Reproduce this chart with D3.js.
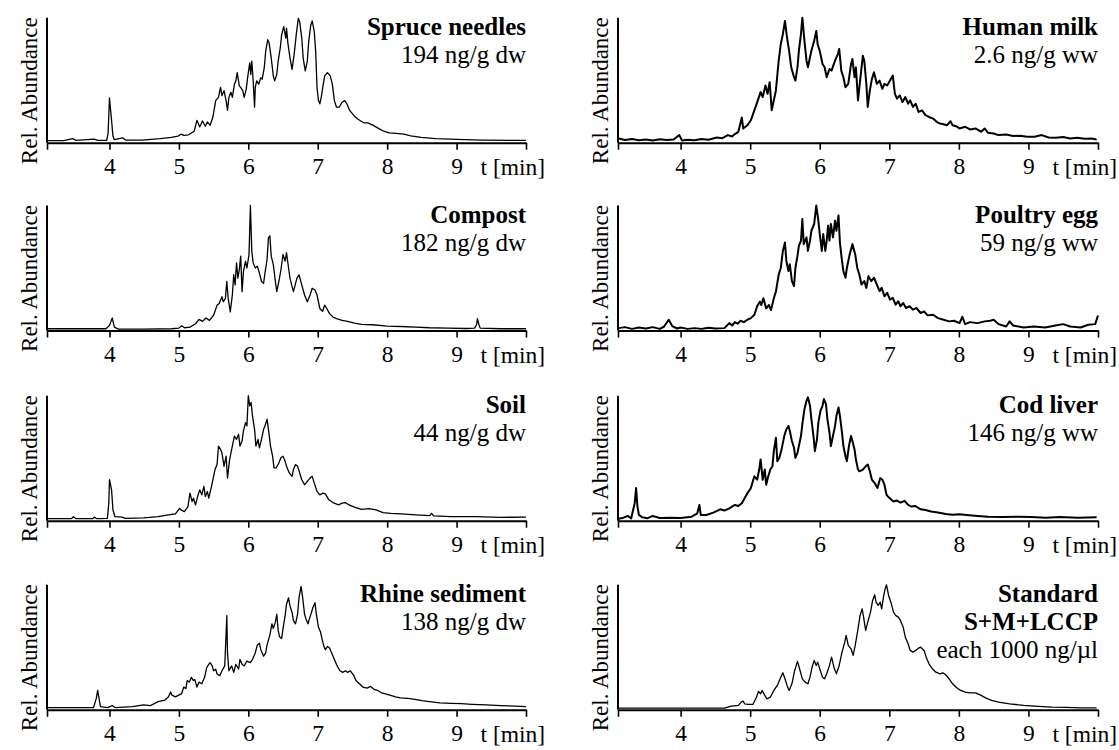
<!DOCTYPE html>
<html><head><meta charset="utf-8">
<script src="https://cdn.jsdelivr.net/npm/d3@7"></script>
<style>
body{margin:0;background:#fff}
svg{display:block}
text{font-family:"Liberation Serif","Times New Roman",serif;fill:#000}
</style>
</head><body>
<svg id="chart" width="1119" height="750"></svg>
<script>
// ---------- DATA (time [min], relative abundance 0-100) ----------
const spruceNeedles = [[3.10,1.6],[3.34,1.6],[3.47,3.2],[3.52,1.8],[3.78,2.9],[3.83,1.8],[3.96,1.8],[3.98,7.4],[4.00,35.8],[4.03,17.9],[4.05,5.3],[4.07,2.4],[4.19,3.9],[4.23,2.1],[4.47,2.1],[4.73,3.2],[4.89,4.2],[4.99,5.3],[5.03,6.8],[5.07,5.8],[5.14,6.3],[5.22,9.2],[5.26,17.9],[5.30,12.6],[5.34,17.4],[5.38,13.2],[5.41,16.6],[5.45,13.9],[5.49,20.5],[5.53,33.7],[5.57,36.3],[5.60,44.2],[5.62,37.6],[5.65,41.6],[5.68,33.7],[5.70,25.8],[5.72,36.3],[5.75,40.3],[5.77,36.3],[5.80,46.8],[5.82,49.5],[5.84,56.1],[5.87,45.5],[5.89,44.2],[5.92,41.6],[5.94,36.3],[5.97,42.9],[5.99,52.1],[6.02,63.9],[6.035,54.7],[6.05,65.3],[6.07,49.5],[6.09,28.4],[6.10,44.2],[6.12,49.5],[6.15,46.8],[6.18,52.1],[6.20,50.8],[6.23,60.0],[6.25,73.2],[6.28,82.4],[6.30,79.7],[6.33,67.9],[6.36,53.4],[6.38,49.5],[6.41,54.7],[6.43,65.3],[6.46,75.8],[6.48,86.3],[6.51,92.9],[6.54,83.7],[6.55,91.6],[6.57,79.7],[6.60,67.9],[6.63,58.7],[6.66,70.5],[6.69,86.3],[6.72,99.5],[6.74,96.8],[6.77,83.7],[6.79,67.9],[6.82,57.4],[6.85,65.3],[6.87,81.1],[6.90,94.2],[6.92,97.4],[6.95,88.9],[6.97,73.2],[6.99,44.2],[7.01,33.7],[7.03,31.1],[7.05,36.3],[7.08,46.8],[7.10,53.4],[7.14,56.1],[7.18,53.4],[7.21,46.8],[7.24,33.7],[7.27,28.4],[7.31,28.4],[7.35,32.4],[7.39,33.7],[7.42,31.1],[7.46,25.8],[7.52,21.8],[7.57,19.2],[7.62,17.4],[7.67,15.8],[7.72,15.8],[7.80,13.9],[7.88,11.3],[7.95,9.2],[8.03,7.9],[8.13,7.4],[8.24,6.8],[8.34,5.5],[8.49,4.2],[8.70,3.2],[9.01,2.6],[9.37,2.1],[10.0,1.8]];

const compost = [[3.10,1.4],[3.50,1.4],[3.95,1.4],[4.00,4.1],[4.04,10.0],[4.07,2.7],[4.13,1.1],[4.49,1.1],[4.90,1.4],[5.00,1.9],[5.04,3.8],[5.08,2.2],[5.16,2.7],[5.24,5.4],[5.29,8.9],[5.34,7.3],[5.39,10.0],[5.44,8.1],[5.50,12.2],[5.55,20.3],[5.58,21.6],[5.62,27.0],[5.64,23.0],[5.67,25.7],[5.69,39.2],[5.71,25.7],[5.74,14.9],[5.77,28.4],[5.79,44.6],[5.81,36.5],[5.83,54.1],[5.85,41.9],[5.87,48.6],[5.89,59.5],[5.91,31.1],[5.93,47.3],[5.96,55.4],[5.98,50.0],[6.01,60.8],[6.03,100],[6.05,63.5],[6.07,54.1],[6.10,50.0],[6.13,51.4],[6.16,45.9],[6.19,39.2],[6.22,37.8],[6.24,45.9],[6.27,56.8],[6.29,74.3],[6.31,75.7],[6.33,59.5],[6.36,52.7],[6.39,39.2],[6.41,31.1],[6.44,39.2],[6.47,48.6],[6.50,60.8],[6.53,55.4],[6.55,62.2],[6.58,50.0],[6.60,41.9],[6.63,35.1],[6.65,31.1],[6.70,41.9],[6.73,44.6],[6.77,36.5],[6.81,28.4],[6.85,23.0],[6.89,28.4],[6.92,33.8],[6.96,32.4],[6.99,28.4],[7.03,17.6],[7.07,15.4],[7.10,20.3],[7.13,17.6],[7.17,13.5],[7.22,10.8],[7.27,9.5],[7.35,8.1],[7.43,7.3],[7.53,5.9],[7.63,4.9],[7.79,4.6],[8.00,3.5],[8.20,3.2],[8.41,2.7],[8.61,2.2],[8.87,1.9],[9.13,1.6],[9.26,1.9],[9.29,5.0],[9.30,9.5],[9.32,5.0],[9.34,1.9],[9.64,1.4],[10.0,1.4]];

const soil = [[3.10,1.6],[3.45,1.6],[3.48,3.2],[3.52,1.6],[3.76,1.6],[3.78,2.9],[3.82,1.6],[3.97,1.9],[3.99,14.0],[4.00,32.8],[4.03,24.7],[4.05,8.6],[4.08,3.2],[4.18,2.9],[4.23,1.9],[4.49,2.2],[4.70,3.2],[4.85,4.6],[4.95,5.4],[5.01,9.9],[5.03,8.6],[5.08,7.3],[5.13,11.3],[5.16,22.0],[5.19,15.3],[5.21,18.0],[5.24,12.6],[5.27,19.4],[5.30,24.7],[5.33,20.7],[5.36,27.4],[5.38,19.4],[5.41,23.4],[5.43,18.0],[5.47,27.4],[5.49,32.8],[5.52,40.9],[5.55,44.9],[5.57,59.7],[5.60,57.0],[5.62,54.3],[5.65,43.5],[5.68,51.6],[5.70,34.1],[5.73,48.9],[5.75,54.3],[5.78,62.4],[5.80,67.7],[5.83,65.1],[5.86,69.1],[5.88,59.7],[5.91,63.7],[5.93,71.8],[5.96,78.5],[5.98,75.8],[6.00,100],[6.02,91.9],[6.04,94.6],[6.06,83.9],[6.09,73.1],[6.11,59.7],[6.14,65.1],[6.16,58.3],[6.19,65.1],[6.22,73.1],[6.24,75.8],[6.27,81.2],[6.29,73.1],[6.32,59.7],[6.35,51.6],[6.37,42.2],[6.40,42.2],[6.44,46.2],[6.47,50.3],[6.50,51.6],[6.53,47.6],[6.55,43.5],[6.59,38.2],[6.63,35.5],[6.65,40.9],[6.68,44.9],[6.71,43.5],[6.74,38.2],[6.77,32.8],[6.81,28.8],[6.85,31.5],[6.89,34.1],[6.92,35.5],[6.95,30.1],[6.99,23.4],[7.03,20.7],[7.07,22.0],[7.11,21.5],[7.16,16.7],[7.22,14.5],[7.30,12.6],[7.35,14.0],[7.40,14.5],[7.45,12.6],[7.53,10.8],[7.63,9.1],[7.74,9.7],[7.84,8.6],[7.94,6.5],[8.05,5.9],[8.20,5.4],[8.41,4.6],[8.61,4.0],[8.64,5.9],[8.67,3.8],[8.92,3.2],[9.28,3.2],[9.64,2.7],[10.0,2.9]];

const rhineSediment = [[3.10,1.8],[3.45,1.8],[3.77,1.8],[3.81,9.1],[3.83,15.6],[3.85,9.1],[3.87,2.6],[3.97,1.8],[4.04,3.4],[4.08,1.8],[4.33,2.6],[4.49,3.9],[4.59,3.4],[4.70,6.5],[4.80,7.8],[4.85,10.4],[4.88,14.3],[4.90,11.7],[4.95,10.4],[5.04,13.0],[5.07,18.2],[5.10,16.9],[5.12,23.4],[5.15,22.1],[5.18,26.0],[5.21,23.4],[5.23,24.2],[5.26,18.2],[5.29,22.1],[5.33,20.8],[5.37,26.0],[5.40,33.8],[5.43,36.4],[5.45,37.7],[5.48,35.1],[5.50,31.2],[5.53,32.5],[5.55,28.6],[5.59,27.3],[5.62,31.2],[5.66,35.1],[5.68,61.0],[5.69,75.3],[5.70,45.5],[5.72,31.2],[5.76,35.1],[5.79,29.9],[5.82,36.4],[5.86,32.5],[5.88,40.3],[5.91,36.4],[5.94,35.1],[5.98,39.0],[6.03,37.7],[6.06,40.3],[6.10,45.5],[6.13,51.9],[6.16,53.2],[6.18,48.1],[6.22,42.9],[6.25,45.5],[6.27,51.9],[6.31,59.7],[6.34,68.8],[6.36,64.9],[6.39,70.1],[6.41,76.6],[6.43,63.6],[6.45,58.4],[6.48,57.1],[6.50,64.9],[6.53,75.3],[6.55,84.4],[6.58,89.6],[6.60,83.1],[6.63,77.9],[6.65,71.4],[6.68,68.8],[6.71,76.6],[6.73,89.6],[6.76,98.7],[6.78,90.9],[6.81,76.6],[6.83,72.7],[6.86,68.8],[6.88,72.7],[6.91,77.9],[6.93,81.8],[6.96,85.7],[6.98,76.6],[7.01,66.2],[7.04,62.3],[7.06,57.1],[7.09,50.6],[7.11,48.1],[7.14,50.6],[7.17,49.4],[7.21,44.2],[7.24,40.3],[7.28,35.1],[7.32,31.2],[7.36,29.9],[7.40,31.2],[7.43,29.9],[7.47,31.2],[7.52,27.3],[7.55,23.4],[7.60,20.8],[7.65,18.2],[7.71,17.4],[7.76,18.7],[7.81,16.4],[7.86,15.6],[7.91,13.8],[7.96,13.0],[8.04,11.7],[8.12,10.4],[8.19,9.6],[8.30,9.1],[8.40,8.3],[8.50,7.3],[8.61,6.5],[8.76,5.5],[8.92,5.2],[9.07,4.9],[9.22,4.4],[9.43,3.9],[9.64,3.4],[9.85,2.9],[10.0,2.6]];

const humanMilk = [[3.11,3.4],[3.20,2.1],[3.30,3.0],[3.40,2.0],[3.50,2.6],[3.60,1.8],[3.70,2.8],[3.80,2.2],[3.90,2.5],[3.98,6.1],[4.02,1.8],[4.10,2.4],[4.20,2.0],[4.30,3.0],[4.40,2.4],[4.52,4.2],[4.60,3.6],[4.68,6.1],[4.74,5.0],[4.78,6.9],[4.83,8.7],[4.88,20.1],[4.90,11.4],[4.96,14.0],[5.01,18.0],[5.06,25.9],[5.11,33.9],[5.15,40.5],[5.18,36.5],[5.22,45.8],[5.25,39.2],[5.28,48.4],[5.31,25.9],[5.34,33.9],[5.37,41.8],[5.41,65.6],[5.44,78.8],[5.47,86.8],[5.50,97.4],[5.53,84.1],[5.56,73.5],[5.59,60.3],[5.63,52.4],[5.65,49.7],[5.68,60.3],[5.70,73.5],[5.73,86.8],[5.75,100],[5.78,81.5],[5.81,65.6],[5.83,60.3],[5.86,68.3],[5.88,73.5],[5.92,81.5],[5.95,89.4],[5.97,78.8],[6.00,73.5],[6.04,63.0],[6.07,60.3],[6.10,52.4],[6.14,59.0],[6.17,57.7],[6.22,65.6],[6.26,70.9],[6.28,74.9],[6.31,57.7],[6.34,52.4],[6.37,44.4],[6.41,47.1],[6.45,63.0],[6.47,66.9],[6.50,52.4],[6.52,60.3],[6.55,33.9],[6.58,49.7],[6.62,69.6],[6.64,65.6],[6.67,47.1],[6.69,28.6],[6.72,41.8],[6.75,51.1],[6.78,56.3],[6.82,47.1],[6.86,49.7],[6.90,43.1],[6.93,47.1],[6.97,45.8],[7.01,49.7],[7.05,53.7],[7.08,39.2],[7.11,35.2],[7.15,37.8],[7.19,32.5],[7.23,36.5],[7.27,31.2],[7.30,33.9],[7.34,28.6],[7.38,31.2],[7.42,24.6],[7.47,25.9],[7.52,22.0],[7.57,20.6],[7.63,19.3],[7.68,16.7],[7.73,15.3],[7.78,14.8],[7.83,14.0],[7.88,17.2],[7.91,14.0],[7.96,13.2],[8.01,11.4],[8.09,12.7],[8.16,10.6],[8.24,11.4],[8.32,8.7],[8.37,11.4],[8.42,7.9],[8.50,7.4],[8.57,6.1],[8.68,6.6],[8.78,5.3],[8.88,5.6],[8.98,4.8],[9.09,4.8],[9.19,6.1],[9.29,4.2],[9.39,4.0],[9.50,4.5],[9.60,3.4],[9.70,4.0],[9.81,3.2],[9.91,3.4],[9.98,2.6]];

const poultryEgg = [[3.11,1.9],[3.20,2.7],[3.30,1.3],[3.40,2.4],[3.50,1.6],[3.60,2.7],[3.70,1.3],[3.76,3.0],[3.83,8.6],[3.88,3.5],[3.95,1.6],[4.00,2.4],[4.10,1.3],[4.20,1.9],[4.30,1.3],[4.40,2.2],[4.50,1.6],[4.63,1.9],[4.70,5.9],[4.74,4.0],[4.78,6.7],[4.82,5.4],[4.86,7.8],[4.91,6.7],[4.96,8.6],[5.01,9.9],[5.06,12.6],[5.10,19.4],[5.14,23.1],[5.16,20.4],[5.19,25.8],[5.23,17.7],[5.27,20.4],[5.30,16.4],[5.34,25.8],[5.37,31.2],[5.41,44.6],[5.44,50.0],[5.47,63.7],[5.50,70.4],[5.52,55.6],[5.55,47.6],[5.57,53.0],[5.60,39.5],[5.63,35.5],[5.65,50.0],[5.68,59.7],[5.70,67.7],[5.73,71.8],[5.75,89.2],[5.77,69.1],[5.81,74.5],[5.83,63.7],[5.86,71.8],[5.88,79.8],[5.92,85.2],[5.95,100],[5.98,87.9],[6.00,77.2],[6.03,63.7],[6.05,77.2],[6.08,63.7],[6.10,71.8],[6.12,83.9],[6.14,71.8],[6.16,85.2],[6.19,74.5],[6.22,87.9],[6.24,79.8],[6.27,92.0],[6.29,70.4],[6.32,55.6],[6.34,47.6],[6.37,42.2],[6.39,50.0],[6.43,60.8],[6.47,69.1],[6.51,60.8],[6.54,50.0],[6.57,44.6],[6.60,36.8],[6.64,39.5],[6.67,34.1],[6.70,43.5],[6.74,39.5],[6.78,42.2],[6.82,36.8],[6.86,31.5],[6.89,34.1],[6.93,27.4],[6.97,30.1],[7.01,24.7],[7.05,26.1],[7.09,20.7],[7.13,23.4],[7.16,19.4],[7.20,22.0],[7.24,18.0],[7.29,19.4],[7.34,16.7],[7.39,18.0],[7.45,14.0],[7.50,15.3],[7.55,12.1],[7.63,12.6],[7.70,9.9],[7.78,8.6],[7.86,7.3],[7.93,7.8],[8.01,5.9],[8.05,11.0],[8.09,5.1],[8.16,6.7],[8.27,5.9],[8.37,7.3],[8.45,7.8],[8.50,8.6],[8.57,5.1],[8.68,3.2],[8.73,7.3],[8.78,4.0],[8.93,2.4],[9.08,3.2],[9.24,2.4],[9.39,4.0],[9.50,5.1],[9.60,3.2],[9.75,2.4],[9.86,4.6],[9.96,5.1],[10.0,12.0]];

const codLiver = [[3.11,1.6],[3.18,2.4],[3.24,3.8],[3.29,1.9],[3.34,14.0],[3.36,26.1],[3.38,11.3],[3.40,4.6],[3.45,2.7],[3.52,1.9],[3.60,3.8],[3.70,2.2],[3.85,2.4],[4.00,2.2],[4.16,3.2],[4.24,5.9],[4.27,12.6],[4.29,4.6],[4.37,4.6],[4.47,6.5],[4.57,9.1],[4.63,8.1],[4.70,9.9],[4.78,12.6],[4.83,11.8],[4.88,14.0],[4.92,18.0],[4.96,22.0],[5.01,26.1],[5.06,35.5],[5.10,32.8],[5.13,40.9],[5.15,49.0],[5.18,32.8],[5.21,40.9],[5.23,28.8],[5.26,35.5],[5.29,40.9],[5.32,43.5],[5.34,55.6],[5.37,66.4],[5.39,47.6],[5.42,50.3],[5.45,56.7],[5.49,67.7],[5.52,73.1],[5.55,75.8],[5.57,71.8],[5.60,63.7],[5.63,58.3],[5.65,50.3],[5.68,54.3],[5.70,59.7],[5.73,67.7],[5.75,77.2],[5.78,89.2],[5.81,95.9],[5.83,98.7],[5.86,91.9],[5.88,81.2],[5.91,67.7],[5.93,55.6],[5.96,65.1],[5.98,78.5],[6.01,87.9],[6.04,91.9],[6.06,97.3],[6.09,93.3],[6.11,81.2],[6.14,70.4],[6.16,59.7],[6.19,67.7],[6.22,75.8],[6.24,83.9],[6.27,90.6],[6.29,83.9],[6.32,70.4],[6.34,59.7],[6.37,51.6],[6.39,47.6],[6.42,59.7],[6.45,67.7],[6.47,63.7],[6.50,57.0],[6.52,48.9],[6.55,40.9],[6.57,39.5],[6.62,40.9],[6.66,43.5],[6.69,44.9],[6.72,39.5],[6.75,32.8],[6.79,30.1],[6.83,26.1],[6.87,34.1],[6.90,32.8],[6.93,28.8],[6.96,20.7],[6.98,19.4],[7.03,16.7],[7.06,15.3],[7.11,16.1],[7.16,14.5],[7.22,15.9],[7.27,12.6],[7.32,11.3],[7.37,11.8],[7.45,9.1],[7.52,8.6],[7.60,7.3],[7.70,6.5],[7.81,5.4],[7.91,4.8],[8.01,5.1],[8.11,4.6],[8.27,3.8],[8.42,3.2],[8.63,2.9],[8.84,3.2],[9.04,2.9],[9.25,2.4],[9.45,2.9],[9.71,2.4],[9.98,2.7]];

const standardMix = [[3.11,1.3],[3.80,1.3],[4.63,1.3],[4.73,2.9],[4.83,3.5],[4.87,6.1],[4.90,6.9],[4.92,4.8],[4.97,4.3],[5.04,4.3],[5.09,10.1],[5.12,14.7],[5.15,12.8],[5.17,15.5],[5.21,11.5],[5.24,8.8],[5.29,10.1],[5.34,15.5],[5.39,19.5],[5.44,26.1],[5.47,29.6],[5.50,24.8],[5.53,19.5],[5.56,15.5],[5.60,20.8],[5.64,31.5],[5.68,38.7],[5.71,32.8],[5.75,24.8],[5.79,22.1],[5.83,20.8],[5.86,26.1],[5.89,34.1],[5.92,39.5],[5.95,35.5],[5.97,38.1],[6.00,32.8],[6.04,26.1],[6.07,24.8],[6.10,28.8],[6.14,35.5],[6.17,42.1],[6.21,32.8],[6.24,28.8],[6.28,35.5],[6.32,46.1],[6.36,54.1],[6.38,59.5],[6.41,51.5],[6.45,48.8],[6.48,43.5],[6.51,51.5],[6.55,64.8],[6.58,75.5],[6.61,80.8],[6.63,74.1],[6.66,63.5],[6.69,70.1],[6.73,78.1],[6.76,87.5],[6.79,92.0],[6.81,86.1],[6.84,83.5],[6.87,86.1],[6.89,80.8],[6.92,91.5],[6.94,96.8],[6.96,100],[6.99,91.5],[7.03,84.8],[7.06,78.1],[7.09,75.5],[7.13,74.1],[7.16,71.5],[7.20,66.1],[7.23,58.1],[7.27,52.8],[7.30,47.5],[7.34,46.1],[7.38,47.5],[7.42,49.3],[7.45,50.1],[7.50,47.5],[7.53,42.1],[7.57,36.8],[7.62,32.8],[7.67,30.1],[7.73,28.8],[7.77,29.6],[7.81,28.0],[7.86,24.8],[7.91,20.8],[7.96,18.1],[8.01,16.0],[8.09,14.1],[8.16,13.6],[8.24,13.6],[8.32,11.5],[8.39,9.3],[8.47,7.5],[8.57,6.1],[8.73,4.8],[8.93,3.5],[9.14,2.7],[9.34,2.1],[9.55,1.9],[9.75,1.6],[9.98,1.6]];

const sampleNames = ["Spruce needles","Compost","Soil","Rhine sediment","Human milk","Poultry egg","Cod liver","Standard"];
const sampleNotes = [["194 ng/g dw"],["182 ng/g dw"],["44 ng/g dw"],["138 ng/g dw"],["2.6 ng/g ww"],["59 ng/g ww"],["146 ng/g ww"],["S+M+LCCP","each 1000 ng/\u00b5l"]];
const sampleSeries = [spruceNeedles, compost, soil, rhineSediment, humanMilk, poultryEgg, codLiver, standardMix];
const boldSecondLine = [false,false,false,false,false,false,false,true];
const xTickLabels = [4,5,6,7,8,9];
const timeDomain = [3.1, 10];
const xAxisTitle = "t [min]";
const yAxisTitle = "Rel. Abundance";

// ---------- LAYOUT ----------
const svg = d3.select("#chart");
svg.append("rect").attr("width",1119).attr("height",750).attr("fill","#fff");
const colRange = [[47, 526], [618, 1098]];
const rowBase = [142.7, 330.5, 520.7, 709.8];
const plotH = 125;
const noisy = new Set([4,5,6]);
const serif = '"Liberation Serif","Times New Roman",serif';

sampleSeries.forEach((series, i) => {
  const col = Math.floor(i / 4), row = i % 4;
  const [x0, x1] = colRange[col];
  const base = rowBase[row];
  const x = d3.scaleLinear().domain(timeDomain).range([x0, x1]);
  const y = d3.scaleLinear().domain([0, 100]).range([base, base - plotH]);
  const g = svg.append("g");

  // trace
  g.append("path")
    .datum(series)
    .attr("fill", "none")
    .attr("stroke", "#000")
    .attr("stroke-width", noisy.has(i) ? 2.0 : 1.3)
    .attr("stroke-linejoin", "round")
    .attr("d", d3.line().x(d => x(d[0])).y(d => y(d[1])));

  // x axis
  const ax = g.append("g").attr("transform", `translate(0,${base})`)
    .call(d3.axisBottom(x)
      .tickValues([timeDomain[0], ...xTickLabels, timeDomain[1]])
      .tickSize(7).tickSizeOuter(0).tickPadding(8)
      .tickFormat(d => xTickLabels.includes(d) ? String(d) : ""));
  ax.attr("font-family", serif);
  ax.select(".domain").attr("stroke", "#000").attr("stroke-width", 2);
  ax.selectAll(".tick line").attr("stroke", "#000").attr("stroke-width", 1.6);
  ax.selectAll(".tick text")
    .attr("font-family", serif)
    .attr("font-size", 23.5).attr("fill", "#000");

  // y axis line
  g.append("line")
    .attr("x1", x0).attr("x2", x0)
    .attr("y1", y(0)).attr("y2", y(100))
    .attr("stroke", "#000").attr("stroke-width", 2);

  // axis titles
  g.append("text")
    .attr("x", x(9) + 24)
    .attr("y", base + 32)
    .attr("font-size", 23.5)
    .text(xAxisTitle);
  g.append("text")
    .attr("transform", `translate(${x0 - 10},${base - 52}) rotate(-90)`)
    .attr("text-anchor", "middle")
    .attr("font-size", 23)
    .text(yAxisTitle);

  // sample label
  const lines = [sampleNames[i], ...sampleNotes[i]];
  lines.forEach((t, k) => {
    g.append("text")
      .attr("x", x1)
      .attr("y", base - 108 + 28 * k)
      .attr("text-anchor", "end")
      .attr("font-size", 25)
      .attr("font-weight", (k === 0 || (k === 1 && boldSecondLine[i])) ? "bold" : "normal")
      .text(t);
  });
});
</script>
</body></html>
